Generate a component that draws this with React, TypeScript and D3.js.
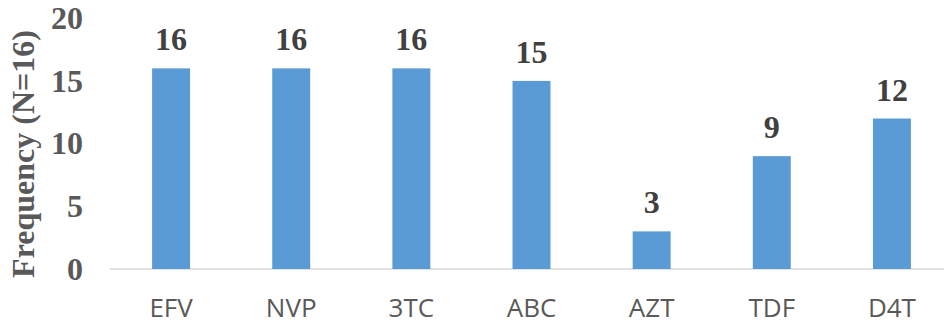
import React from "react";
import * as d3 from "d3";

const categories = ["EFV", "NVP", "3TC", "ABC", "AZT", "TDF", "D4T"];
const frequencies = [16, 16, 16, 15, 3, 9, 12];
const yTicks = [0, 5, 10, 15, 20];
const yTitle = "Frequency (N=16)";

const W = 944;
const H = 324;

export default function App() {
  const x = d3
    .scaleBand<string>()
    .domain(categories)
    .range([111, 952])
    .paddingInner(0.684)
    .paddingOuter(0.342);
  const y = d3.scaleLinear().domain([0, 20]).range([269, 18.2]);

  const serif = "'Liberation Serif', 'Times New Roman', serif";
  const sans = "'Open Sans', 'Noto Sans', sans-serif";

  return (
    <svg
      width={W}
      height={H}
      style={{ position: "absolute", left: 0, top: 0, display: "block", background: "#fff" }}
    >
      {/* baseline */}
      <line x1={110} x2={W} y1={y(0)} y2={y(0)} stroke="#d9d9d9" strokeWidth={1.5} />

      {/* bars */}
      {categories.map((c, i) => (
        <rect
          key={c}
          x={x(c)}
          y={y(frequencies[i])}
          width={x.bandwidth()}
          height={y(0) - y(frequencies[i])}
          fill="#5b9bd5"
        />
      ))}

      {/* value labels */}
      {categories.map((c, i) => (
        <text
          key={c + "-v"}
          x={(x(c) as number) + x.bandwidth() / 2}
          y={y(frequencies[i]) - 18}
          textAnchor="middle"
          fontFamily={serif}
          fontWeight="bold"
          fontSize={32}
          fill="#404040"
        >
          {frequencies[i]}
        </text>
      ))}

      {/* y tick labels */}
      {yTicks.map((t) => (
        <text
          key={t}
          x={83}
          y={y(t)}
          dy="0.34em"
          textAnchor="end"
          fontFamily={serif}
          fontWeight="bold"
          fontSize={32}
          fill="#595959"
        >
          {t}
        </text>
      ))}

      {/* x category labels */}
      {categories.map((c) => (
        <text
          key={c + "-x"}
          x={(x(c) as number) + x.bandwidth() / 2}
          y={317}
          textAnchor="middle"
          fontFamily={sans}
          fontSize={26}
          fill="#595959"
        >
          {c}
        </text>
      ))}

      {/* y axis title */}
      <text
        transform={`translate(34, 154) rotate(-90)`}
        textAnchor="middle"
        fontFamily={serif}
        fontWeight="bold"
        fontSize={32}
        fill="#595959"
      >
        {yTitle}
      </text>
    </svg>
  );
}
